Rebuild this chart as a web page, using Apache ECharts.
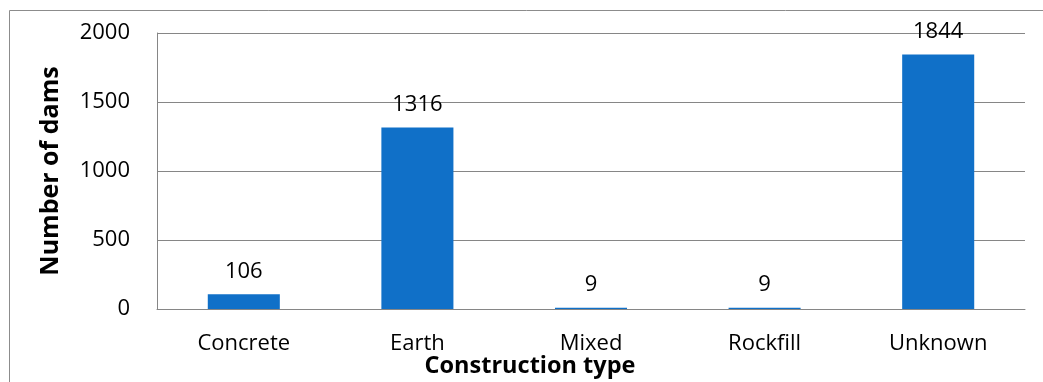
<!DOCTYPE html>
<html lang="en">
<head>
    <meta charset="UTF-8">
    <title>Construction type</title>
    <style>
        html, body { margin: 0; padding: 0; background: #fff; }
        #main { width: 1043px; height: 382px; }
    </style>
</head>
<body>
<div id="main"></div>
<script src="https://cdn.jsdelivr.net/npm/echarts@6/dist/echarts.min.js"></script>
<script type="text/javascript">
    // data
    var categories = ['Concrete', 'Earth', 'Mixed', 'Rockfill', 'Unknown'];
    var damCounts = [106, 1316, 9, 9, 1844];
    var yTicks = [0, 500, 1000, 1500, 2000];

    var font = '"Open Sans", sans-serif';
    var chart = echarts.init(document.getElementById('main'));

    chart.setOption({
        animation: false,
        textStyle: {fontFamily: font},
        graphic: [{
            type: 'rect',
            shape: {x: 9.5, y: 10.5, width: 1100, height: 420},
            style: {fill: 'none', stroke: '#8c8c8c', lineWidth: 1},
            silent: true
        }],
        grid: {left: 157, right: 18, top: 33, bottom: 73, outerBoundsMode: 'none'},
        xAxis: {
            type: 'category',
            data: categories,
            name: 'Construction type',
            nameLocation: 'middle',
            nameGap: 45,
            nameMoveOverlap: false,
            // the title sits left of the plot centre in the original
            nameTextStyle: {fontFamily: font, fontSize: 23.5, fontWeight: 'bold', color: '#000', padding: [0, 122, 0, 0]},
            axisLine: {lineStyle: {color: '#868686', width: 1}},
            axisTick: {show: false},
            axisLabel: {fontFamily: font, fontSize: 22, color: '#000', margin: 24}
        },
        yAxis: {
            type: 'value',
            min: yTicks[0],
            max: yTicks[yTicks.length - 1],
            interval: yTicks[1] - yTicks[0],
            name: 'Number of dams',
            nameLocation: 'middle',
            nameGap: 94,
            nameTextStyle: {fontFamily: font, fontSize: 25, fontWeight: 'bold', color: '#000'},
            axisLine: {show: true, lineStyle: {color: '#868686', width: 1}},
            axisTick: {show: false},
            splitLine: {lineStyle: {color: '#868686', width: 1}},
            axisLabel: {
                fontFamily: font, fontSize: 22, color: '#000', margin: 27,
                padding: [6, 0, 0, 0],
                formatter: function (v) { return String(v); }
            }
        },
        series: [{
            name: 'Number of dams',
            type: 'bar',
            data: damCounts,
            barWidth: '41.5%',
            itemStyle: {color: '#1070c8'},
            label: {
                show: true,
                position: 'top',
                distance: 12,
                fontFamily: font,
                fontSize: 22,
                color: '#000'
            }
        }]
    });
</script>
</body>
</html>
